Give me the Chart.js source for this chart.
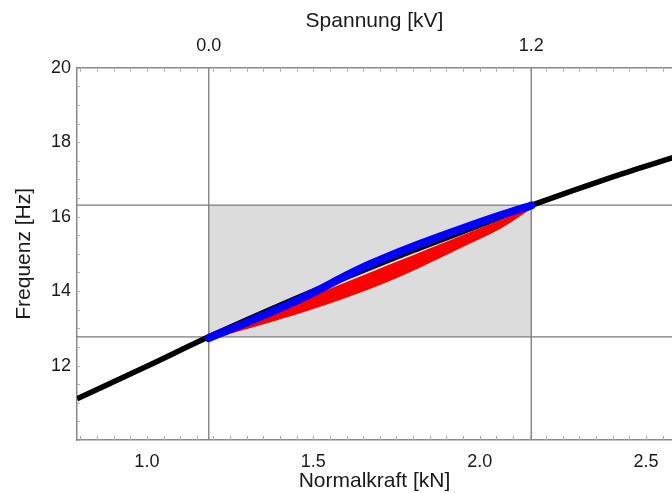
<!DOCTYPE html>
<html>
<head>
<meta charset="utf-8">
<script src="https://cdn.jsdelivr.net/npm/chart.js@4"></script>
<style>
  html, body { margin: 0; padding: 0; background: #fff; }
  #wrap { width: 672px; height: 493px; }
</style>
</head>
<body>
<div id="wrap"><canvas id="chart" width="672" height="493"></canvas></div>
<script>
// Achsenbereiche
const forceRange = [0.79, 2.578];
const freqRange = [10, 20];

// Tick-Beschriftungen
const forceTicks = [1.0, 1.5, 2.0, 2.5];
const freqTicks = [12, 14, 16, 18, 20];
const voltageTicks = ['0.0', '1.2'];

// Arbeitsbereich (graues Rechteck + Linien)
const markerForce = [1.186, 2.155];
const markerFreq = [12.77, 16.31];

// Kennlinie (schwarz)
const curveForce = [0.79, 1.0, 1.186, 1.4, 1.6, 1.8, 2.0, 2.155, 2.4, 2.6];
const curveFreq = [11.11, 11.98, 12.77, 13.62, 14.37, 15.09, 15.77, 16.30, 17.07, 17.64];

// Messung blau
const blueForce = [1.186, 1.28, 1.40, 1.50, 1.60, 1.67, 1.80, 1.95, 2.06, 2.155];
const blueFreq = [12.74, 13.08, 13.54, 13.96, 14.42, 14.72, 15.20, 15.69, 16.03, 16.30];

// Messung rot (Band zwischen oberer und unterer Kante)
const redForce = [1.186, 1.26, 1.37, 1.48, 1.67, 1.79, 1.94, 2.06, 2.11, 2.155];
const redHighFreq = [12.74, 12.97, 13.38, 13.78, 14.47, 14.90, 15.44, 15.87, 16.06, 16.26];
const redLowFreq = [12.74, 12.92, 13.20, 13.50, 14.10, 14.55, 15.19, 15.71, 15.99, 16.26];

function toPoints(xs, ys) {
  return xs.map((x, i) => ({ x: x, y: ys[i] }));
}

const FONT = "'Liberation Sans', Arial, sans-serif";
const TEXT = '#1a1a1a';
const LINE_GREY = '#7a7a7a';

// kleine Innen-Ticks an den Achsen
const minorTicks = {
  id: 'minorTicks',
  afterDraw(chart) {
    const { ctx, chartArea: a, scales } = chart;
    ctx.save();
    ctx.strokeStyle = '#b0b0b0';
    ctx.lineWidth = 1;
    ctx.beginPath();
    for (let v = 0.8; v <= forceRange[1]; v += 0.05) {
      const px = Math.round(scales.x.getPixelForValue(v)) + 0.5;
      ctx.moveTo(px, a.bottom); ctx.lineTo(px, a.bottom - 4);
      ctx.moveTo(px, a.top); ctx.lineTo(px, a.top + 4);
    }
    for (let v = freqRange[0]; v <= freqRange[1]; v += 0.5) {
      const py = Math.round(scales.y.getPixelForValue(v)) + 0.5;
      ctx.moveTo(a.left, py); ctx.lineTo(a.left + 3, py);
    }
    ctx.stroke();
    ctx.restore();
  }
};

function createChart() {
  const ctx = document.getElementById('chart').getContext('2d');
  const lineBase = { pointRadius: 0, fill: false, tension: 0, borderColor: LINE_GREY, borderWidth: 1.3, order: 4 };

  new Chart(ctx, {
    type: 'line',
    data: {
      datasets: [
        {
          data: toPoints(blueForce, blueFreq),
          borderColor: '#0000ff', borderWidth: 8, pointRadius: 0,
          cubicInterpolationMode: 'monotone', borderCapStyle: 'round', fill: false, order: 1
        },
        {
          data: toPoints(redForce, redHighFreq),
          borderColor: '#ff0000', borderWidth: 2, pointRadius: 0,
          cubicInterpolationMode: 'monotone', fill: false, order: 2
        },
        {
          data: toPoints(redForce, redLowFreq),
          borderColor: '#ff0000', borderWidth: 3, pointRadius: 0,
          backgroundColor: '#ff0000',
          cubicInterpolationMode: 'monotone', fill: '-1', order: 2
        },
        {
          data: toPoints(curveForce, curveFreq),
          borderColor: '#000000', borderWidth: 5.5, pointRadius: 0,
          cubicInterpolationMode: 'monotone', fill: false, order: 3
        },
        Object.assign({ data: toPoints(forceRange, [markerFreq[0], markerFreq[0]]) }, lineBase),
        Object.assign({ data: toPoints(forceRange, [markerFreq[1], markerFreq[1]]) }, lineBase),
        Object.assign({ data: toPoints([markerForce[0], markerForce[0]], freqRange) }, lineBase),
        Object.assign({ data: toPoints([markerForce[1], markerForce[1]], freqRange) }, lineBase),
        {
          data: toPoints(markerForce, [markerFreq[1], markerFreq[1]]),
          borderWidth: 0, pointRadius: 0, backgroundColor: '#dcdcdc',
          fill: { value: markerFreq[0] }, order: 5
        }
      ]
    },
    options: {
      responsive: false,
      animation: false,
      layout: { padding: 0 },
      plugins: { legend: { display: false }, tooltip: { enabled: false } },
      scales: {
        x: {
          type: 'linear', position: 'bottom',
          min: forceRange[0], max: forceRange[1],
          afterBuildTicks: s => { s.ticks = forceTicks.map(v => ({ value: v })); },
          afterFit: s => { s.height = 53; },
          ticks: { color: TEXT, font: { family: FONT, size: 18 }, padding: 11, maxRotation: 0,
                   callback: v => v.toFixed(1) },
          grid: { display: true, drawOnChartArea: false, drawTicks: false },
          border: { display: true, color: '#8a8a8a', width: 1.5 },
          title: { display: true, text: 'Normalkraft [kN]', color: TEXT,
                   font: { family: FONT, size: 21 }, padding: { top: 0, bottom: -1 } }
        },
        x2: {
          type: 'linear', position: 'top',
          min: forceRange[0], max: forceRange[1],
          afterBuildTicks: s => { s.ticks = markerForce.map(v => ({ value: v })); },
          afterFit: s => { s.height = 67.7; },
          ticks: { color: TEXT, font: { family: FONT, size: 18 }, padding: 11, maxRotation: 0,
                   callback: (v, i) => voltageTicks[i] },
          grid: { display: true, drawOnChartArea: false, drawTicks: false },
          border: { display: true, color: '#8a8a8a', width: 1.5 },
          title: { display: true, text: 'Spannung [kV]', color: TEXT,
                   font: { family: FONT, size: 21 }, padding: { top: 9, bottom: 0 } }
        },
        y: {
          type: 'linear', position: 'left',
          min: freqRange[0], max: freqRange[1],
          afterBuildTicks: s => { s.ticks = freqTicks.map(v => ({ value: v })); },
          afterFit: s => { s.width = 77; },
          ticks: { color: TEXT, font: { family: FONT, size: 18 }, padding: 6 },
          grid: { display: true, drawOnChartArea: false, drawTicks: false },
          border: { display: true, color: '#8a8a8a', width: 1.5 },
          title: { display: true, text: 'Frequenz [Hz]', color: TEXT,
                   font: { family: FONT, size: 21 }, padding: { top: 12, bottom: 0 } }
        }
      }
    },
    plugins: [minorTicks]
  });
}

document.addEventListener('DOMContentLoaded', createChart);
</script>
</body>
</html>
